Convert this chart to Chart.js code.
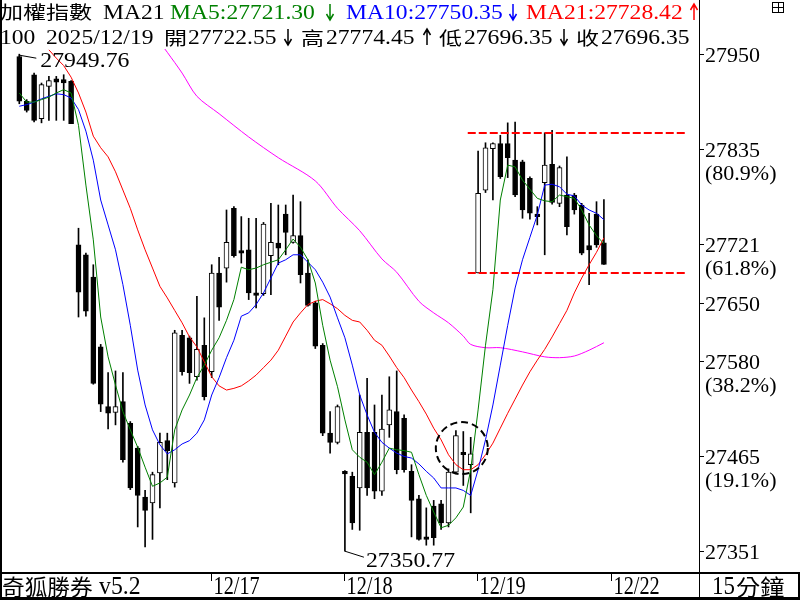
<!DOCTYPE html>
<html lang="zh-Hant">
<head>
  <meta charset="UTF-8">
  <title>加權指數 15分鐘</title>
  <script src="https://cdn.jsdelivr.net/npm/chart.js@4.4.0/dist/chart.umd.min.js"></script>
  <style>
    html, body { margin: 0; padding: 0; background: #fff; }
    #wrap { width: 800px; height: 600px; }
    canvas { display: block; }
  </style>
</head>
<body>
  <div id="wrap"><canvas id="kChart" width="800" height="600"></canvas></div>
  <script>
    // 15-minute candles: last 8 of 12/15, then 12/16 .. 12/19 (18 per day)
    const opens = [27947, 27893, 27925, 27872, 27911, 27920, 27919, 27917,
      27720, 27708, 27681, 27597, 27525, 27518, 27531, 27505, 27475, 27416, 27409, 27445, 27484, 27433, 27611, 27608, 27561, 27599,
      27567, 27686, 27692, 27764, 27713, 27714, 27662, 27661, 27707, 27722, 27757, 27723, 27731, 27686, 27650, 27599, 27493, 27482,
      27447, 27441, 27427, 27494, 27494, 27423, 27503, 27519, 27511, 27447, 27414, 27368, 27405, 27408, 27385, 27446, 27470, 27455,
      27686, 27786, 27836, 27842, 27842, 27822, 27820, 27800, 27757, 27795, 27817, 27770, 27780, 27780, 27768, 27719, 27757, 27722.55];
    const highs = [27949.76, 27895, 27927, 27915, 27923, 27923, 27925, 27918,
      27740, 27710, 27696, 27600, 27566, 27568, 27566, 27507, 27477, 27424, 27446, 27493, 27493, 27617, 27617, 27610, 27658, 27632,
      27696, 27705, 27762, 27766, 27754, 27752, 27752, 27747, 27770, 27768, 27768, 27780, 27772, 27702, 27652, 27601, 27519, 27527,
      27448, 27446, 27539, 27559, 27527, 27539, 27561, 27568, 27515, 27455, 27418, 27403, 27412, 27412, 27450, 27496, 27495, 27488,
      27833, 27843, 27843, 27852, 27867, 27868, 27822, 27802, 27766, 27855, 27858, 27815, 27826, 27782, 27770, 27758, 27772, 27774.45];
    const lows = [27890, 27880, 27868, 27867, 27870, 27870, 27870, 27866,
      27633, 27634, 27552, 27519, 27498, 27503, 27458, 27425, 27380, 27356, 27365, 27403, 27437, 27428, 27563, 27553, 27557, 27533,
      27560, 27629, 27675, 27705, 27698, 27654, 27644, 27659, 27660, 27696, 27708, 27722, 27674, 27646, 27595, 27490, 27469, 27480,
      27350.77, 27377, 27376, 27418, 27414, 27418, 27488, 27444, 27446, 27368, 27364, 27358, 27358, 27377, 27380, 27444, 27430, 27397,
      27686, 27783, 27774, 27800, 27801, 27778, 27752, 27751, 27744, 27708, 27769, 27766, 27732, 27757, 27708, 27672, 27717, 27696.35];
    const closes = [27893, 27882, 27870, 27913, 27918, 27916, 27915, 27866,
      27663, 27640, 27553, 27528, 27517, 27525, 27461, 27427, 27418, 27400, 27443, 27482, 27472, 27614, 27567, 27566, 27594, 27537,
      27686, 27645, 27723, 27707, 27710, 27662, 27659, 27745, 27723, 27716, 27735, 27731, 27684, 27647, 27598, 27493, 27482, 27525,
      27444, 27385, 27494, 27427, 27423, 27498, 27521, 27449, 27449, 27412, 27365, 27365, 27367, 27385, 27446, 27490, 27467, 27468,
      27782, 27837, 27842, 27802, 27825, 27780, 27762, 27758, 27754, 27816, 27771, 27813, 27742, 27762, 27710, 27714, 27720, 27696.35];

    const ma5 = [27903, 27892, 27892, 27895, 27898, 27903, 27907, 27903, 27864, 27792,
      27726, 27633, 27585, 27551, 27519, 27497, 27476, 27452, 27429, 27433,
      27440, 27497, 27521, 27539, 27560, 27575, 27593, 27608, 27629, 27654,
      27693, 27690, 27692, 27696, 27699, 27702, 27714, 27727, 27717, 27702,
      27674, 27623, 27581, 27549, 27509, 27473, 27464, 27458, 27443, 27458,
      27475, 27473, 27472, 27470, 27443, 27418, 27398, 27379, 27382, 27391,
      27404, 27449, 27521, 27599, 27666, 27774, 27816, 27814, 27798, 27787,
      27776, 27773, 27772, 27780, 27778, 27776, 27762, 27744, 27731, 27721.30];
    const ma10 = [27887, 27889, 27892, 27896, 27899, 27902, 27901, 27897, 27883, 27857,
      27822, 27774, 27744, 27714, 27672, 27623, 27569, 27527, 27497, 27479,
      27468, 27473, 27480, 27484, 27493, 27509, 27539, 27560, 27584, 27605,
      27634, 27638, 27648, 27662, 27680, 27698, 27702, 27708, 27708, 27699,
      27690, 27675, 27657, 27632, 27608, 27575, 27539, 27515, 27494, 27482,
      27475, 27469, 27465, 27463, 27456, 27447, 27439, 27427, 27427, 27427,
      27424, 27418, 27449, 27485, 27527, 27575, 27623, 27668, 27702, 27729,
      27756, 27792, 27793, 27790, 27781, 27779, 27768, 27762, 27758, 27750.35];
    const ma21 = [null, null, null, null, 27955, 27945, 27936, 27922, 27903, 27880,
      27851, 27837, 27826, 27808, 27786, 27764, 27738, 27714, 27692, 27670,
      27656, 27641, 27626, 27609, 27597, 27579, 27561, 27550, 27545, 27547,
      27550, 27556, 27563, 27572, 27581, 27593, 27610, 27627, 27638, 27648,
      27652, 27654, 27649, 27643, 27635, 27629, 27627, 27617, 27605, 27599,
      27586, 27572, 27560, 27545, 27531, 27516, 27499, 27485, 27467, 27455,
      27449, 27449, 27455, 27467, 27481, 27499, 27517, 27534, 27551, 27567,
      27581, 27594, 27609, 27625, 27641, 27662, 27680, 27696, 27711, 27728.42];
    // long moving average (magenta), read at a few candles
    const maLongIdx = [19, 20, 22, 24, 27, 31, 35, 40, 43, 46, 49, 51, 54, 56, 58, 60, 61, 63, 65, 68, 71, 73, 75, 77, 79];
    const maLongVal = [27964, 27952, 27927, 27899, 27878, 27850, 27825, 27797, 27764, 27737, 27703, 27687, 27652, 27638,
      27626, 27610, 27600, 27596, 27596, 27591, 27585, 27584, 27586, 27593, 27602];

    const dayLabels = ['12/17', '12/18', '12/19', '12/22'];
    const dayStartIdx = [26, 44, 62, 80];
    const axisTicks = [27950, 27835, 27721, 27650, 27580, 27465, 27351];
    const axisPct = ['', '(80.9%)', '(61.8%)', '', '(38.2%)', '(19.1%)', ''];
    const rangeLines = [27855, 27686];
    const rangeFrom = 60.6, rangeTo = 90.3;
    const markIdx = 59.8, markPrice = 27475;
    const hiIdx = 0, loIdx = 44;

    const SERIF = '"Liberation Serif", "DejaVu Serif", serif';
    const CJK = '"Noto Sans CJK TC", "Noto Sans CJK SC", sans-serif';

    function txt(ctx, s, x, y, size, family, color, sx) {
      ctx.save();
      ctx.translate(x, y);
      ctx.scale(sx || 1, 1);
      ctx.font = size + 'px ' + family;
      ctx.fillStyle = color;
      ctx.textBaseline = 'alphabetic';
      ctx.textAlign = 'left';
      ctx.fillText(s, 0, 0);
      ctx.restore();
    }

    // thin up/down arrow like the terminal's header glyph
    function arrow(ctx, x, top, bottom, up, color) {
      ctx.save();
      ctx.strokeStyle = color;
      ctx.lineWidth = 1.5;
      ctx.beginPath();
      ctx.moveTo(x, top); ctx.lineTo(x, bottom);
      const tip = up ? top : bottom, d = up ? 6 : -6;
      ctx.moveTo(x - 3.5, tip + d); ctx.lineTo(x, tip); ctx.lineTo(x + 3.5, tip + d);
      ctx.stroke();
      ctx.restore();
    }

    const idx = opens.map((_, i) => i);
    const wickData = idx.map(i => ({ x: i, y: [lows[i], highs[i]] }));
    const bodyData = idx.map(i => ({ x: i, y: [opens[i], closes[i]] }));
    const bodyFill = idx.map(i => closes[i] > opens[i] ? '#ffffff' : '#000000');

    const overlay = {
      id: 'overlay',
      beforeDraw(c) {
        const ctx = c.ctx;
        ctx.save();
        ctx.fillStyle = '#fff';
        ctx.fillRect(0, 0, c.width, c.height);
        ctx.restore();
      },
      afterDatasetsDraw(c) {
        const ctx = c.ctx, xs = c.scales.x, ys = c.scales.y, a = c.chartArea;
        ctx.save();
        ctx.beginPath();
        ctx.rect(a.left, a.top, a.right - a.left, a.bottom - a.top);
        ctx.clip();

        // red dashed range lines
        ctx.strokeStyle = '#ff0000';
        ctx.lineWidth = 2;
        ctx.setLineDash([8, 3]);
        rangeLines.forEach(v => {
          const y = Math.round(ys.getPixelForValue(v));
          ctx.beginPath();
          ctx.moveTo(xs.getPixelForValue(rangeFrom), y);
          ctx.lineTo(xs.getPixelForValue(rangeTo), y);
          ctx.stroke();
        });

        // dashed circle marker
        ctx.strokeStyle = '#000';
        ctx.setLineDash([7, 4]);
        ctx.beginPath();
        ctx.arc(xs.getPixelForValue(markIdx), ys.getPixelForValue(markPrice), 26, 0, Math.PI * 2);
        ctx.stroke();
        ctx.setLineDash([]);

        // high / low annotations
        ctx.strokeStyle = '#000';
        ctx.lineWidth = 1;
        const hx = xs.getPixelForValue(hiIdx), hy = ys.getPixelForValue(highs[hiIdx]);
        ctx.beginPath();
        ctx.moveTo(hx, hy + 4);
        ctx.lineTo(hx, hy + 1);
        ctx.lineTo(hx + 17, hy + 4);
        ctx.stroke();
        txt(ctx, highs[hiIdx].toFixed(2), hx + 21, hy + 13, 22, SERIF, '#000', 1.08);

        const lx = xs.getPixelForValue(loIdx), ly = ys.getPixelForValue(lows[loIdx]);
        ctx.beginPath();
        ctx.moveTo(lx, ly);
        ctx.lineTo(lx + 19, ly + 6);
        ctx.stroke();
        txt(ctx, lows[loIdx].toFixed(2), lx + 21, ly + 16, 22, SERIF, '#000', 1.08);
        ctx.restore();
      },
      afterDraw(c) {
        const ctx = c.ctx, xs = c.scales.x, ys = c.scales.y, a = c.chartArea;
        ctx.save();
        ctx.fillStyle = '#000';
        // frame
        ctx.fillRect(0, 0, 2, 600);
        ctx.fillRect(0, 572, 800, 2);
        ctx.fillRect(0, 597, 800, 3);
        ctx.fillRect(798, 572, 2, 28);
        ctx.fillRect(a.right, 0, 1, 598);

        // window icon at top right
        ctx.strokeStyle = '#000';
        ctx.lineWidth = 1;
        ctx.strokeRect(772.5, 2.5, 11, 10);
        ctx.beginPath();
        ctx.moveTo(772, 7.5); ctx.lineTo(784, 7.5);
        ctx.moveTo(778.5, 2); ctx.lineTo(778.5, 13);
        ctx.stroke();

        // header line 1
        const hs = 1.18;
        txt(ctx, '加權指數', 0, 19, 18, CJK, '#000', 1.28);
        txt(ctx, 'MA21', 103, 19, 20, SERIF, '#000', hs);
        txt(ctx, 'MA5:' + ma5[ma5.length - 1].toFixed(2), 170, 19, 20, SERIF, '#008000', hs);
        arrow(ctx, 330, 4, 20, false, '#008000');
        txt(ctx, 'MA10:' + ma10[ma10.length - 1].toFixed(2), 346, 19, 20, SERIF, '#0000ff', hs);
        arrow(ctx, 513, 4, 20, false, '#0000ff');
        txt(ctx, 'MA21:' + ma21[ma21.length - 1].toFixed(2), 526, 19, 20, SERIF, '#ff0000', hs);
        arrow(ctx, 694, 4, 20, true, '#ff0000');

        // header line 2
        const n = opens.length - 1;
        txt(ctx, '100', 0, 44, 20, SERIF, '#000', hs);
        txt(ctx, '2025/12/19', 46, 44, 20, SERIF, '#000', hs);
        txt(ctx, '開', 164, 45, 18, CJK, '#000', 1.28);
        txt(ctx, opens[n].toFixed(2), 188, 44, 20, SERIF, '#000', hs);
        arrow(ctx, 288, 29, 45, false, '#000');
        txt(ctx, '高', 301, 45, 18, CJK, '#000', 1.28);
        txt(ctx, highs[n].toFixed(2), 326, 44, 20, SERIF, '#000', hs);
        arrow(ctx, 427, 29, 45, true, '#000');
        txt(ctx, '低', 439, 45, 18, CJK, '#000', 1.28);
        txt(ctx, lows[n].toFixed(2), 464, 44, 20, SERIF, '#000', hs);
        arrow(ctx, 564, 29, 45, false, '#000');
        txt(ctx, '收', 576, 45, 18, CJK, '#000', 1.28);
        txt(ctx, closes[n].toFixed(2), 601, 44, 20, SERIF, '#000', hs);

        // right price axis
        axisTicks.forEach((v, k) => {
          const y = Math.round(ys.getPixelForValue(v)) + 0.5;
          ctx.beginPath();
          ctx.moveTo(a.right, y); ctx.lineTo(a.right + 5, y);
          ctx.stroke();
          txt(ctx, String(v), a.right + 6, y + 7, 22, SERIF, '#000', 1);
          if (axisPct[k]) txt(ctx, axisPct[k], a.right + 6, y + 30, 22, SERIF, '#000', 1);
        });

        // bottom strip
        txt(ctx, '奇狐勝券', 2, 595, 22, CJK, '#000', 1.03);
        txt(ctx, 'v5.2', 99, 594, 25, SERIF, '#000', 0.95);
        dayLabels.forEach((s, k) => {
          const x = Math.round(xs.getPixelForValue(dayStartIdx[k] - 0.1)) + 0.5;
          ctx.beginPath();
          ctx.moveTo(x, 574); ctx.lineTo(x, 581);
          ctx.stroke();
          txt(ctx, s, x + 2, 594, 26, SERIF, '#000', 0.78);
        });
        txt(ctx, '15', 712, 594, 26, SERIF, '#000', 0.88);
        txt(ctx, '分鐘', 736, 595, 22, CJK, '#000', 1.1);
        ctx.restore();
      }
    };

    new Chart(document.getElementById('kChart'), {
      type: 'bar',
      data: {
        datasets: [
          { type: 'line', label: 'MA5', data: ma5.map((v, i) => ({ x: i, y: v })), borderColor: '#008000',
            borderWidth: 1, pointRadius: 0, tension: 0, order: 0 },
          { type: 'line', label: 'MA10', data: ma10.map((v, i) => ({ x: i, y: v })), borderColor: '#0000ff',
            borderWidth: 1, pointRadius: 0, tension: 0, order: 0 },
          { type: 'line', label: 'MA21', data: ma21.map((v, i) => ({ x: i, y: v })), borderColor: '#ff0000',
            borderWidth: 1, pointRadius: 0, tension: 0, order: 0 },
          { type: 'line', label: 'MA', data: maLongIdx.map((x, k) => ({ x: x, y: maLongVal[k] })), borderColor: '#ff00ff',
            borderWidth: 1, pointRadius: 0, tension: 0.3, order: 0 },
          { type: 'bar', label: 'body', data: bodyData, backgroundColor: bodyFill, borderColor: '#000',
            borderWidth: 1, borderSkipped: false, barThickness: 5, grouped: false, order: 1 },
          { type: 'bar', label: 'wick', data: wickData, backgroundColor: '#000', borderWidth: 0,
            barThickness: 1, grouped: false, order: 2 }
        ]
      },
      options: {
        responsive: false,
        animation: false,
        events: [],
        layout: { padding: { left: 1, right: 101, top: 49, bottom: 28 } },
        plugins: { legend: { display: false }, tooltip: { enabled: false } },
        scales: {
          x: { type: 'linear', display: false, offset: false, min: -2.473, max: 91.85 },
          y: { type: 'linear', display: false, min: 27325.7, max: 27956.0 }
        }
      },
      plugins: [overlay]
    });
  </script>
</body>
</html>
